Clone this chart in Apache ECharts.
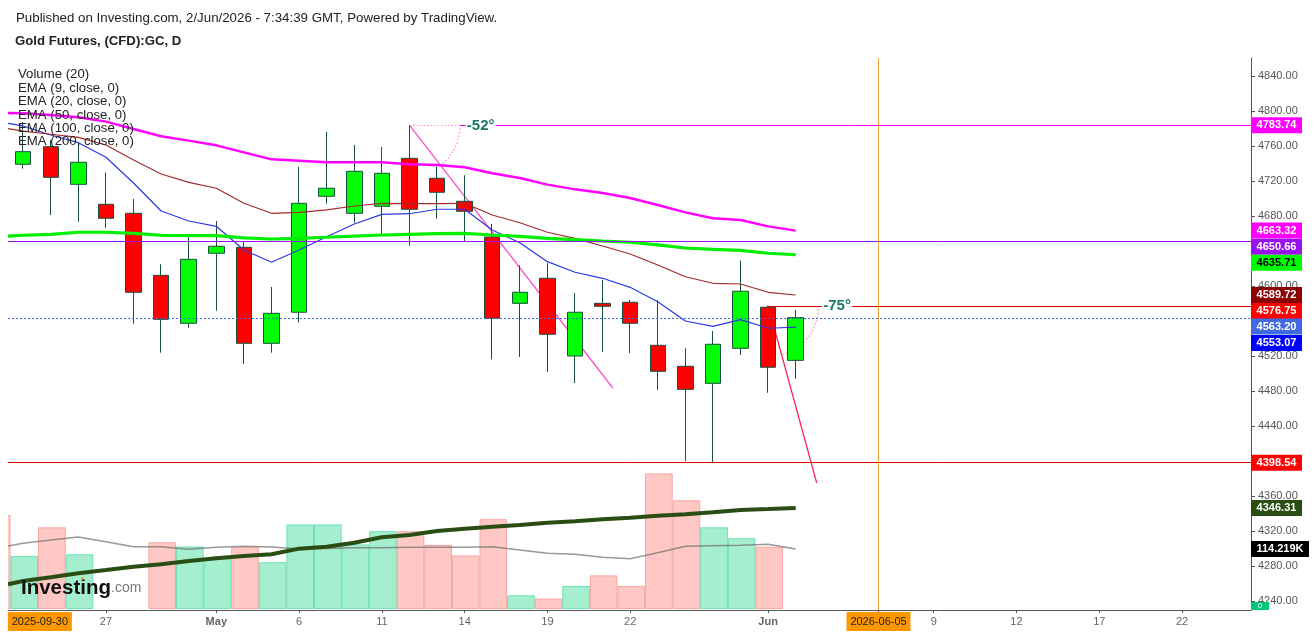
<!DOCTYPE html>
<html>
<head>
<meta charset="utf-8">
<style>html,body{margin:0;padding:0;background:#fff}#chart{width:1316px;height:634px}</style>
<script src="https://cdn.jsdelivr.net/npm/echarts@6/dist/echarts.min.js"></script>
</head>
<body>
<div id="chart"></div>
<script>
const FONT = '"Liberation Sans", Arial, sans-serif';

// candles, one per session
const opens  = [4739.1,4759.2,4716.2,4693.4,4683.1,4612.2,4557.4,4637.4,4644.2,4534.5,4570.0,4702.5,4683.1,4691.1,4745.9,4723.1,4696.8,4656.0,4580.2,4608.8,4520.0,4580.2,4581.4,4532.2,4508.2,4488.8,4528.8,4575.7,4515.0];
const closes = [4753.5,4724.2,4741.4,4677.4,4592.8,4561.9,4630.5,4645.4,4534.5,4568.8,4694.5,4711.7,4731.1,4728.8,4687.7,4707.1,4685.4,4563.1,4592.8,4544.8,4570.0,4576.8,4557.4,4502.5,4481.9,4533.4,4594.0,4507.1,4563.8];
const lows   = [4734.1,4681.1,4673.5,4666.6,4556.9,4523.8,4552.3,4571.8,4510.9,4523.8,4558.1,4694.1,4672.3,4658.3,4646.1,4676.9,4650.6,4516.2,4518.9,4501.7,4489.1,4524.6,4523.4,4481.1,4400.0,4397.4,4521.1,4478.0,4494.0];
const highs  = [4787.4,4766.9,4763.4,4729.5,4699.4,4624.8,4656.3,4674.3,4650.6,4598.9,4736.0,4776.0,4761.1,4758.9,4784.0,4736.3,4726.5,4670.9,4623.7,4626.0,4592.0,4606.9,4584.0,4583.7,4528.8,4548.6,4628.9,4577.5,4572.6];

// volume in thousands, first entry is the bar cut off at the left edge
const volumeX = [-1,0,1,2,5,6,7,8,9,10,11,12,13,14,15,16,17,18,19,20,21,22,23,24,25,26,27];
const volumes = [179,101,155.5,104,127,119,96.5,118.6,89,161,161,123,148,148,122,102,171,26,20,44,64,44,258,207,155.5,134.6,118.6];
const volumeUp = [0,1,0,1,0,1,1,0,1,1,1,1,1,0,0,0,0,1,0,1,0,0,0,0,1,1,0];

// moving averages start at the left edge, then one value per session
const lineX = [-0.55,0,1,2,3,4,5,6,7,8,9,10,11,12,13,14,15,16,17,18,19,20,21,22,23,24,25,26,27,28];
const ema9   = [4785.9,4782.9,4772.6,4763.8,4747.1,4717.7,4685.7,4674.3,4668.2,4641.1,4627.1,4641.1,4656.3,4670.9,4681.9,4682.6,4687.7,4687.7,4664.0,4649.5,4627.8,4615.7,4608.8,4598.5,4582.0,4560.0,4553.9,4561.5,4551.7,4553.07];
const ema20  = [4779.8,4777.1,4773.4,4769.9,4761.1,4744.0,4728.0,4718.5,4711.7,4694.5,4683.1,4684.2,4686.9,4691.4,4694.5,4694.1,4694.1,4694.5,4681.1,4672.3,4661.4,4654.5,4645.7,4636.6,4624.0,4610.6,4603.1,4602.3,4592.8,4589.72];
const ema50  = [4797.7,4797.4,4795.4,4792.8,4787.8,4779.4,4771.1,4766.1,4760.8,4752.8,4744.8,4743.2,4741.4,4741.4,4741.4,4739.1,4738.3,4735.7,4728.8,4723.4,4715.8,4710.5,4706.3,4700.6,4692.6,4684.2,4677.4,4675.4,4668.2,4663.32];
const ema100 = [4657.1,4658.0,4659.1,4661.4,4661.4,4660.2,4658.0,4657.5,4657.5,4654.9,4653.7,4654.5,4655.7,4657.1,4658.3,4659.1,4659.8,4660.2,4658.3,4656.8,4654.5,4652.9,4651.4,4650.0,4646.9,4643.4,4641.9,4640.8,4637.4,4635.71];
const ema200 = [4259.1,4262.9,4267.1,4271.7,4275.4,4279.2,4281.9,4285.7,4288.8,4291.4,4293.4,4299.8,4302.1,4306.6,4312.8,4315.4,4320.0,4322.6,4324.9,4326.9,4329.5,4331.1,4333.4,4335.2,4337.5,4339.1,4341.4,4344.0,4345.1,4346.31];
const volumeMa = [119.9,125.1,131.3,137,128.1,118.6,118.6,113.6,117.5,119.4,118,114.8,115.5,116.7,116.7,117.5,117.5,117.5,118.6,112.3,106,104.1,98.4,95.8,107.2,119.4,120.5,121.3,123.2,114.219];

// drawings
const trendDownX = [14, 21.37];
const trendDownY = [4783.74, 4483.4];
const trendRedX = [27, 28.76];
const trendRedY = [4577.5, 4374.9];
const arc52X = [15.84, 15.73, 15.41, 15.13];
const arc52Y = [4784, 4764.1, 4746.5, 4738.3];
const arc75X = [28.83, 28.72, 28.39, 27.91, 27.45];
const arc75Y = [4577.1, 4557.7, 4539.4, 4526.9, 4521.1];

// axes
const priceTicks = [4240,4280,4320,4360,4400,4440,4480,4520,4560,4600,4640,4680,4720,4760,4800,4840];
const dateTicks = [3,7,10,13,16,19,22,27,31,33,36,39,42];
const dateLabels = {0.605:'2025-09-30',3:'27',7:'May',10:'6',13:'11',16:'14',19:'19',22:'22',27:'Jun',31:'2026-06-05',33:'9',36:'12',39:'17',42:'22'};
const boldDates = ['May','Jun'];
const boxDates = ['2025-09-30','2026-06-05'];

const X_MIN = -0.55, X_MAX = 44.5;
const Y_MIN = 4229.7, Y_MAX = 4860.57;

// price tags on the right axis, pushed down where they would collide
const tagPrices = [4783.74,4663.32,4650.66,4635.71,4589.72,4576.75,4563.20,4553.07,4398.54,4346.31];
const tagColors = ['#ff00ff','#ff00ff','#9b10ee','#00ff00','#8b0000','#ff0000','#4169e1','#0000ff','#ff0000','#2a4d14'];
const tagText   = ['#fff','#fff','#fff','#000','#fff','#fff','#fff','#fff','#fff','#fff'];
const tagShift  = [0,0,5,8,0,4.6,8.3,16,0.5,0];

const legendRows = ['Volume (20)','EMA (9, close, 0)','EMA (20, close, 0)','EMA (50, close, 0)','EMA (100, close, 0)','EMA (200, close, 0)'];

const pairs = (xs, ys) => xs.map((x, i) => [x, ys[i]]);

const lineSeries = (ys, color, width, extra) => ({
  type: 'line',
  data: pairs(lineX, ys),
  symbol: 'none',
  silent: true,
  z: 4,
  lineStyle: { color: color, width: width },
  ...extra
});

const drawing = (xs, ys, color, dotted, smooth) => ({
  type: 'line',
  data: pairs(xs, ys),
  symbol: 'none',
  silent: true,
  smooth: !!smooth,
  z: 1,
  lineStyle: { color: color, width: 1.3, type: dotted ? [1.5, 2] : 'solid' }
});

const level = (x0, x1, y, color, type) => [
  { coord: [x0, y], lineStyle: { color: color, width: 1, type: type || 'solid' } },
  { coord: [x1, y] }
];

const priceTag = (value, bg, fg, shift) => ({
  coord: [X_MAX, value],
  symbol: 'rect',
  symbolSize: [51, 16],
  symbolOffset: [25.5, shift],
  itemStyle: { color: bg },
  label: { show: true, position: 'inside', formatter: value.toFixed(2), color: fg, fontSize: 11, fontFamily: FONT, fontWeight: 'bold' }
});

const angleText = (x, y, text) => ({
  coord: [x, y],
  symbol: 'rect',
  symbolSize: 1,
  itemStyle: { color: 'rgba(0,0,0,0)' },
  label: { show: true, position: 'inside', formatter: text, color: '#1a7a66', fontSize: 15, fontFamily: FONT, fontWeight: 'bold', backgroundColor: '#fff', padding: [0, 1] }
});

const chart = echarts.init(document.getElementById('chart'));

chart.setOption({
  animation: false,
  backgroundColor: '#fff',
  textStyle: { fontFamily: FONT },
  grid: { left: 8, top: 58, right: 65, bottom: 24 },
  xAxis: {
    type: 'value',
    min: X_MIN,
    max: X_MAX,
    splitLine: { show: false },
    axisLine: { onZero: false, lineStyle: { color: '#555', width: 1 } },
    axisTick: { customValues: dateTicks, length: 3, lineStyle: { color: '#555' } },
    axisLabel: {
      customValues: Object.keys(dateLabels).map(Number),
      margin: 0,
      hideOverlap: false,
      showMinLabel: true,
      showMaxLabel: true,
      formatter: (v) => {
        const s = dateLabels[v] || '';
        if (boxDates.includes(s)) return '{box|' + s + '}';
        if (boldDates.includes(s)) return '{bold|' + s + '}';
        return '{norm|' + s + '}';
      },
      rich: {
        norm: { color: '#666', fontSize: 11, fontFamily: FONT, height: 19, lineHeight: 23 },
        bold: { color: '#666', fontSize: 11, fontFamily: FONT, fontWeight: 'bold', height: 19, lineHeight: 23 },
        box: { color: '#222', fontSize: 11, fontFamily: FONT, backgroundColor: '#ff9800', width: 64, align: 'center', height: 19, lineHeight: 23 }
      }
    }
  },
  yAxis: [
    {
      type: 'value',
      position: 'right',
      min: Y_MIN,
      max: Y_MAX,
      splitLine: { show: false },
      axisLine: { show: true, onZero: false, lineStyle: { color: '#555', width: 1 } },
      axisTick: { show: true, customValues: priceTicks, length: 4, lineStyle: { color: '#555' } },
      axisLabel: {
        customValues: priceTicks,
        margin: 7,
        padding: [2, 0, 0, 0],
        color: '#555',
        fontSize: 11,
        fontFamily: FONT,
        formatter: (v) => v.toFixed(2)
      }
    },
    // volume scale, hidden
    { type: 'value', min: -1.9, max: 1048.9, show: false, splitLine: { show: false } }
  ],
  graphic: [
    // bars on a value axis are not clipped at the grid edge
    { type: 'rect', left: 0, top: 500, silent: true, z: 10, shape: { width: 8, height: 110 }, style: { fill: '#fff' } },
    { type: 'text', left: 16, top: 12, silent: true, style: { text: 'Published on Investing.com, 2/Jun/2026 - 7:34:39 GMT, Powered by TradingView.', fill: '#222', font: '13.3px ' + FONT } },
    { type: 'text', left: 15, top: 35, silent: true, style: { text: 'Gold Futures, (CFD):GC, D', fill: '#222', font: 'bold 13.2px ' + FONT } },
    { type: 'text', left: 18, top: 68, silent: true, z: 20, style: { text: legendRows.join('\n'), fill: '#222', font: '13.2px ' + FONT, lineHeight: 13.4 } },
    { type: 'text', left: 21, top: 578, silent: true, z: 20, style: { rich: { a: { fill: '#111', font: 'bold 20.5px ' + FONT }, b: { fill: '#777', font: '14px ' + FONT } }, text: '{a|Investing}{b|.com}' } },
    { type: 'circle', left: 81, top: 577, silent: true, z: 21, shape: { r: 1.5 }, style: { fill: '#f5a623' } }
  ],
  series: [
    {
      name: 'Volume',
      type: 'bar',
      yAxisIndex: 1,
      barWidth: 27.6,
      silent: true,
      z: 1,
      data: volumeX.map((x, i) => ({
        value: [x + 0.04, volumes[i]],
        itemStyle: volumeUp[i]
          ? { color: '#a5eed0', borderColor: '#6fe0b5', borderWidth: 1 }
          : { color: '#ffc8c5', borderColor: '#f8a5a3', borderWidth: 1 }
      }))
    },
    lineSeries(volumeMa, 'rgba(110,110,110,0.7)', 1.6, { yAxisIndex: 1, z: 2 }),
    drawing(trendDownX, trendDownY, '#ff4fc8', false),
    drawing(trendRedX, trendRedY, '#ff2050', false),
    drawing(arc52X, arc52Y, '#ff8fd2', true, true),
    drawing(arc75X, arc75Y, '#ff98aa', true, true),
    {
      name: 'Gold',
      type: 'candlestick',
      barWidth: 16,
      silent: true,
      z: 3,
      encode: { x: 0, y: [1, 2, 3, 4] },
      data: opens.map((o, i) => [i, o, closes[i], lows[i], highs[i]]),
      itemStyle: { color: '#00ff00', color0: '#ff0000', borderColor: '#17503c', borderColor0: '#17503c', borderWidth: 1 }
    },
    lineSeries(ema9, '#2a3ae0', 1.2),
    lineSeries(ema20, '#a52a2a', 1.2),
    lineSeries(ema50, '#ff00ff', 2.4),
    lineSeries(ema100, '#00ee00', 3.2),
    lineSeries(ema200, '#2a4d14', 4, {
      markLine: {
        silent: true,
        symbol: 'none',
        label: { show: false },
        z: 5,
        data: [
          level(14, 15.84, 4783.74, '#ff8fd2', [1.5, 2]),
          level(15.84, X_MAX, 4783.74, '#ff00ff'),
          level(X_MIN, X_MAX, 4650.66, '#9b10ee'),
          level(27, X_MAX, 4576.75, '#e00000'),
          level(X_MIN, X_MAX, 4563.20, '#4169e1', [2, 2]),
          level(X_MIN, X_MAX, 4398.54, '#e00000'),
          [
            { coord: [31, Y_MIN], lineStyle: { color: '#e8a33d', width: 1, type: 'solid' } },
            { coord: [31, Y_MAX] }
          ]
        ]
      },
      markPoint: {
        silent: true,
        z: 6,
        data: tagPrices.map((p, i) => priceTag(p, tagColors[i], tagText[i], tagShift[i])).concat([
          angleText(16.58, 4783, '-52°'),
          angleText(29.5, 4577, '-75°')
        ])
      }
    }),
    // volume tags live on the volume scale
    {
      type: 'line',
      yAxisIndex: 1,
      data: [],
      symbol: 'none',
      silent: true,
      markPoint: {
        silent: true,
        z: 6,
        data: [
          {
            coord: [X_MAX, 114.219],
            symbol: 'rect',
            symbolSize: [58, 16],
            symbolOffset: [29, 0],
            itemStyle: { color: '#000' },
            label: { show: true, position: 'inside', formatter: '114.219K', color: '#fff', fontSize: 11, fontFamily: FONT, fontWeight: 'bold' }
          },
          {
            coord: [X_MAX, 0],
            symbol: 'rect',
            symbolSize: [18, 8],
            symbolOffset: [9, -3],
            itemStyle: { color: '#00c878' },
            label: { show: true, position: 'inside', formatter: '0', color: '#fff', fontSize: 8, fontFamily: FONT }
          }
        ]
      }
    }
  ]
});
</script>
</body>
</html>
